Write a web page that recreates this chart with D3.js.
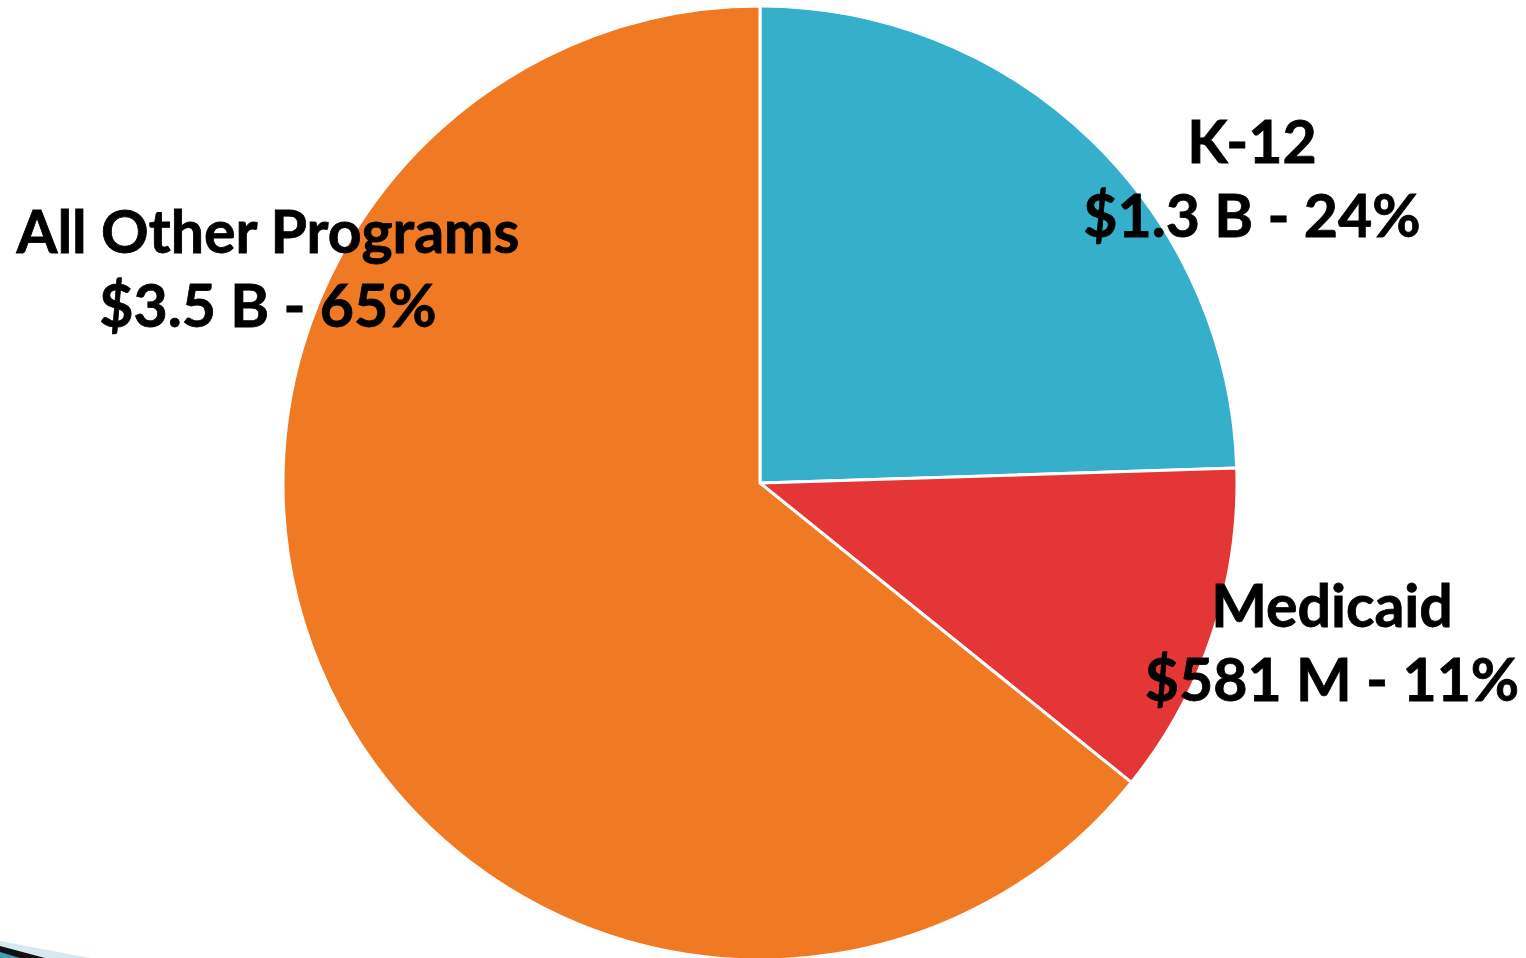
<!DOCTYPE html>
<html>
<head>
<meta charset="utf-8">
<script src="https://cdn.jsdelivr.net/npm/d3@7"></script>
<style>
  body { margin: 0; background: #fff; }
  text { font-family: Lato, "Open Sans", sans-serif; font-weight: 700; fill: #000; stroke: #000; stroke-width: 0.8px; }
</style>
</head>
<body>
<svg width="1526" height="958"></svg>
<script>
// data (share of total, from slice angles)
var categories = ["K-12", "Medicaid", "All Other Programs"];
var shares = [24.5, 11.3, 64.2];
var amounts = ["$1.3 B", "$581 M", "$3.5 B"];
var pctLabels = ["24%", "11%", "65%"];
var colors = ["#35AFCA", "#E43537", "#F07A23"];

var svg = d3.select("svg"),
    cx = 760, cy = 483, radius = 477;

var data = categories.map(function(c, i) {
  return {name: c, value: shares[i], amount: amounts[i], pct: pctLabels[i], color: colors[i]};
});

var pie = d3.pie().sort(null).value(function(d) { return d.value; });
var arc = d3.arc().innerRadius(0).outerRadius(radius);

// little shadow strip in the bottom-left corner
svg.append("path")
    .attr("d", "M0,941 L90,958 L0,958 Z")
    .attr("fill", "#d6e9f0");
svg.append("path")
    .attr("d", "M0,946 L45,958 L0,958 Z")
    .attr("fill", "#111");
svg.append("path")
    .attr("d", "M0,952 L20,958 L0,958 Z")
    .attr("fill", "#3a9fb5");

var g = svg.append("g").attr("transform", "translate(" + cx + "," + cy + ")");

g.selectAll("path")
    .data(pie(data))
    .enter().append("path")
    .attr("d", arc)
    .attr("fill", function(d) { return d.data.color; })
    .style("stroke", "white")
    .style("stroke-width", 3)
    .style("stroke-linejoin", "round");

// label positions (centre x, first baseline)
var labelPos = [[1252, 163], [1332, 627], [268, 253]];

var labels = svg.append("g").attr("class", "labels");
data.forEach(function(d, i) {
  var t = labels.append("text")
      .attr("x", labelPos[i][0])
      .attr("y", labelPos[i][1])
      .attr("text-anchor", "middle")
      .style("font-size", "59px");
  t.append("tspan").attr("x", labelPos[i][0]).text(d.name);
  t.append("tspan").attr("x", labelPos[i][0]).attr("dy", 74).text(d.amount + " - " + d.pct);
});
</script>
</body>
</html>
